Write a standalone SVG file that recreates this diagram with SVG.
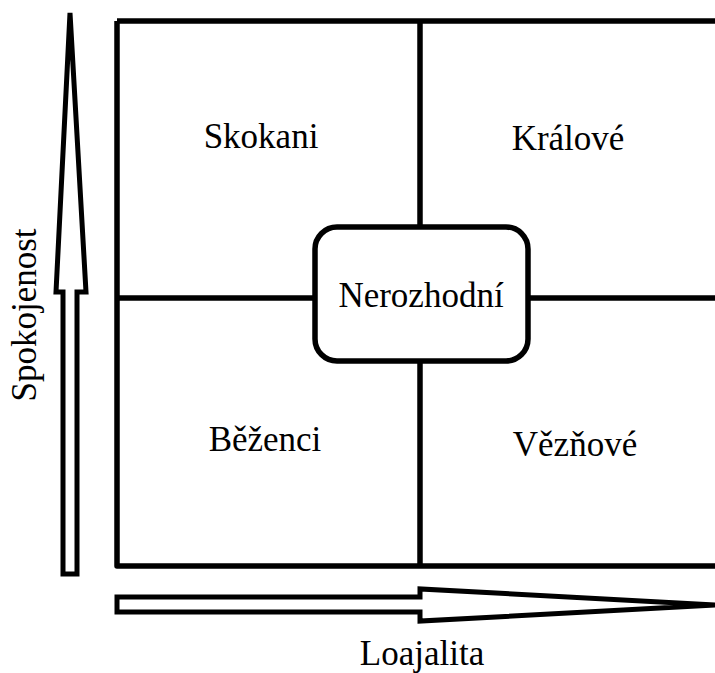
<svg xmlns="http://www.w3.org/2000/svg" width="715" height="673" viewBox="0 0 715 673">
<style>
.ln{fill:none;stroke:#000;stroke-width:5.5;stroke-linejoin:round}
.ar{fill:#fff;stroke:#000;stroke-width:5;stroke-linejoin:miter}
text{font-family:'Liberation Serif','Times New Roman',serif;font-size:35px;fill:#000;text-anchor:middle}
</style>
<rect width="715" height="673" fill="#fff"/>
<g id="connectors">
<path class="ln" d="M117,21 H718 M117,21 V566 H718 M420,21 V566 M117,298 H718"/>
</g>
<g id="arrow-up">
<path class="ar" d="M70,13 L86,292 L77,292 L77,574 L63,574 L63,292 L56,292 Z"/>
</g>
<g id="arrow-right">
<path class="ar" d="M117,597 L420,597 L420,589 L716,605 L420,621 L420,612 L117,612 Z"/>
</g>
<g id="node-nerozhodni">
<rect class="ln" x="315" y="227" width="213" height="134" rx="22" style="fill:#fff"/>
<text x="421" y="307">Nerozhodní</text>
</g>
<g id="node-skokani"><text x="261" y="148">Skokani</text></g>
<g id="node-kralove"><text x="568" y="150">Králové</text></g>
<g id="node-bezenci"><text x="265" y="451">Běženci</text></g>
<g id="node-veznove"><text x="575" y="456">Vězňové</text></g>
<g id="label-loajalita"><text x="422" y="665">Loajalita</text></g>
<g id="label-spokojenost"><text transform="translate(36,315) rotate(-90)">Spokojenost</text></g>
</svg>
